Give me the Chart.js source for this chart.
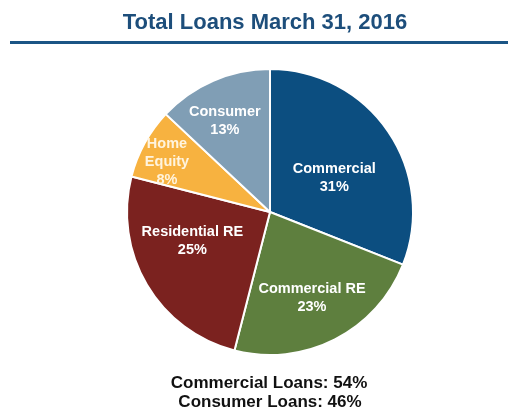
<!DOCTYPE html>
<html>
<head>
<meta charset="utf-8">
<script src="https://cdn.jsdelivr.net/npm/chart.js@4.4.0/dist/chart.umd.min.js"></script>
<style>
  html, body { margin: 0; padding: 0; background: #ffffff; }
  #wrap { position: relative; width: 508px; height: 410px; overflow: hidden; }
  canvas { position: absolute; left: 0; top: 0; }
</style>
</head>
<body>
<div id="wrap"><canvas id="c" width="508" height="410"></canvas></div>
<script>
const title = "Total Loans March 31, 2016";
const categories = ["Commercial", "Commercial RE", "Residential RE", "Home\nEquity", "Consumer"];
const shares = [31, 23, 25, 8, 13];
const sliceColors = ["#0c4e80", "#5e7f3e", "#7b221f", "#f7b240", "#809eb5"];
const labelColors = ["#ffffff", "#ffffff", "#ffffff", "#fff4de", "#ffffff"];
const footerLines = ["Commercial Loans: 54%", "Consumer Loans: 46%"];

// label placement style (fraction of radius, angle nudge in degrees)
const labelRadius = [0.51, 0.67, 0.58, 0.80, 0.71];
const labelNudge = [6, 1, 10, -3, -3];

const decorPlugin = {
  id: 'decor',
  afterDraw(chart) {
    const ctx = chart.ctx;
    ctx.save();
    // title
    ctx.fillStyle = '#1d4e7b';
    ctx.font = 'bold 22px "Liberation Sans", Arial, sans-serif';
    ctx.textAlign = 'center';
    ctx.textBaseline = 'alphabetic';
    ctx.fillText(title, 265, 29);
    // rule
    ctx.fillStyle = '#1b5585';
    ctx.fillRect(10, 41, 498, 3);
    // slice labels
    const meta = chart.getDatasetMeta(0);
    ctx.font = 'bold 14.5px "Liberation Sans", Arial, sans-serif';
    ctx.textBaseline = 'middle';
    meta.data.forEach((arc, i) => {
      const p = arc.getProps(['x', 'y', 'startAngle', 'endAngle', 'outerRadius'], true);
      const a = (p.startAngle + p.endAngle) / 2 + labelNudge[i] * Math.PI / 180;
      const r = p.outerRadius * labelRadius[i];
      const cx = p.x + Math.cos(a) * r;
      const cy = p.y + Math.sin(a) * r;
      const lines = categories[i].split('\n').concat([shares[i] + '%']);
      const lh = 18;
      const y0 = cy - (lines.length - 1) * lh / 2;
      ctx.fillStyle = labelColors[i];
      lines.forEach((t, k) => ctx.fillText(t, cx, y0 + k * lh));
    });
    // footer
    ctx.fillStyle = '#111111';
    ctx.font = 'bold 17px "Liberation Sans", Arial, sans-serif';
    ctx.textBaseline = 'alphabetic';
    ctx.fillText(footerLines[0], 269, 388);
    ctx.fillText(footerLines[1], 270, 407);
    ctx.restore();
  }
};

new Chart(document.getElementById('c'), {
  type: 'pie',
  data: {
    labels: categories.map(s => s.replace('\n', ' ')),
    datasets: [{
      data: shares,
      backgroundColor: sliceColors,
      borderColor: '#ffffff',
      borderWidth: 2
    }]
  },
  options: {
    responsive: false,
    animation: false,
    layout: { padding: { left: 32, right: 0, top: 68, bottom: 54 } },
    plugins: { legend: { display: false }, tooltip: { enabled: false }, title: { display: false } }
  },
  plugins: [decorPlugin]
});
</script>
</body>
</html>
